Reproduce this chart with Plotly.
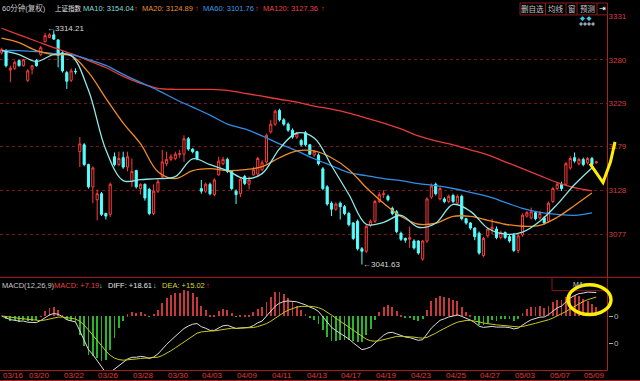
import numpy as np
import pandas as pd
import plotly.graph_objects as go

# ---------------- data ----------------
days = ["03/16", "03/19", "03/20", "03/21", "03/22", "03/23", "03/26", "03/27", "03/28", "03/29",
        "03/30", "04/02", "04/03", "04/04", "04/09", "04/10", "04/11", "04/12", "04/13", "04/16",
        "04/17", "04/18", "04/19", "04/20", "04/23", "04/24", "04/25", "04/26", "04/27", "05/02",
        "05/03", "05/04", "05/07", "05/08", "05/09"]
candles_per_day = [2] + [4] * 34

opens = [3288, 3291, 3268, 3270, 3279, 3273, 3256, 3269, 3279, 3286,
         3301, 3306, 3309, 3303, 3288, 3265, 3256, 3266.5, 3173, 3181,
         3158, 3132, 3117, 3124, 3101, 3100, 3167, 3158, 3166, 3155,
         3138, 3151, 3130, 3135, 3129, 3101, 3127, 3144, 3159, 3164,
         3165, 3170, 3170, 3188, 3176, 3173, 3130, 3127, 3135, 3123,
         3146, 3159, 3164, 3150, 3127, 3124, 3144, 3135, 3146, 3147,
         3152, 3161, 3196, 3205, 3221, 3210, 3205, 3198, 3190, 3186,
         3195, 3181, 3169, 3169, 3153, 3132, 3113, 3106, 3113, 3109,
         3101, 3090, 3092, 3060, 3057, 3087, 3092, 3115, 3123, 3121,
         3107, 3103, 3078, 3072, 3071, 3069, 3069, 3048, 3069, 3120,
         3135, 3118, 3118, 3115, 3122, 3113, 3121, 3095, 3090, 3084,
         3078, 3052, 3075, 3083, 3083, 3073, 3079, 3074, 3076, 3058,
         3076, 3098, 3096, 3102, 3096, 3096, 3092, 3115, 3130, 3135,
         3135, 3154, 3166, 3159, 3164, 3160, 3165, 3160]
highs = [3294, 3292, 3273, 3279, 3280, 3281, 3269, 3274, 3281, 3296,
         3311, 3311, 3314.21, 3304, 3290, 3267, 3270, 3270, 3190, 3183,
         3159, 3156, 3129, 3126, 3102, 3137, 3172, 3173, 3173, 3173,
         3165, 3152, 3136, 3136, 3131, 3135, 3141, 3175, 3173, 3170,
         3173, 3175, 3192, 3190, 3177, 3174, 3140, 3137, 3137, 3142,
         3167, 3167, 3166, 3151, 3129, 3143, 3146, 3144, 3155, 3167,
         3163, 3194, 3210, 3222, 3223, 3212, 3207, 3200, 3196, 3188,
         3197, 3182, 3175, 3171, 3155, 3134, 3115, 3114, 3115, 3111,
         3103, 3091, 3094, 3062, 3088, 3094, 3117, 3126, 3128, 3123,
         3109, 3105, 3080, 3073, 3086, 3071, 3070, 3070, 3120, 3136,
         3137, 3132, 3120, 3123, 3124, 3123, 3123, 3096, 3091, 3085,
         3080, 3074, 3085, 3095, 3086, 3081, 3080, 3076, 3078, 3077,
         3101, 3104, 3108, 3104, 3104, 3098, 3115, 3132, 3137, 3138,
         3161, 3168, 3172, 3166, 3166, 3167, 3167, 3162]
lows = [3286, 3271, 3254, 3268, 3272, 3272, 3254, 3263, 3272, 3284,
        3300, 3305, 3303, 3271, 3265, 3246, 3254, 3263, 3155, 3156,
        3130, 3113, 3093, 3098, 3094, 3097, 3156, 3156, 3153, 3150,
        3132, 3130, 3123, 3116, 3099, 3099, 3125, 3142, 3156, 3162,
        3163, 3166, 3161, 3174, 3171, 3163, 3124, 3125, 3122, 3121,
        3145, 3157, 3148, 3128, 3112, 3120, 3134, 3129, 3145, 3145,
        3150, 3159, 3194, 3203, 3208, 3203, 3196, 3188, 3188, 3179,
        3179, 3169, 3167, 3157, 3128, 3110, 3098, 3104, 3094, 3099,
        3086, 3070, 3058, 3041.63, 3055, 3085, 3090, 3113, 3119, 3115,
        3099, 3078, 3069, 3067, 3061, 3059, 3053, 3046, 3067, 3118,
        3122, 3116, 3113, 3113, 3113, 3111, 3093, 3088, 3082, 3070,
        3053, 3050, 3073, 3077, 3071, 3071, 3071, 3067, 3056, 3055,
        3074, 3096, 3094, 3093, 3094, 3088, 3090, 3113, 3128, 3127,
        3134, 3152, 3160, 3157, 3156, 3158, 3156, 3159]
closes = [3292, 3273, 3270, 3277, 3273, 3280, 3267, 3273, 3273, 3294,
          3308, 3309, 3304, 3285, 3267, 3255, 3267, 3266, 3182, 3158,
          3132, 3154, 3124, 3100, 3098, 3135, 3158, 3165, 3155, 3167,
          3150, 3132, 3135, 3119, 3101, 3127, 3138, 3161, 3164, 3167,
          3170, 3170.5, 3188, 3176, 3173, 3165, 3127, 3135, 3124, 3140,
          3162, 3164, 3150, 3130, 3123, 3141, 3136, 3140, 3152, 3165,
          3160, 3192, 3205, 3220, 3210, 3205, 3198, 3190, 3194, 3181,
          3181, 3170, 3173, 3159, 3130, 3112, 3106, 3112, 3109, 3101,
          3088, 3072, 3060, 3057, 3086, 3092, 3115, 3123, 3124, 3117,
          3101, 3080, 3071, 3070, 3073, 3061, 3055, 3069, 3118, 3133,
          3124, 3130, 3115, 3121, 3115, 3121, 3095, 3090, 3084, 3074,
          3055, 3072, 3083, 3085, 3073, 3079, 3073, 3069, 3058, 3075,
          3099, 3102, 3103, 3095, 3101, 3090, 3113, 3130, 3135, 3130,
          3159, 3165, 3162, 3164, 3158, 3165, 3158, 3161]

# moving averages every 4 candles
ma_sample_idx = list(range(0, 137, 4))
ma10 = [3290.6, 3286.0, 3277.9, 3286.0, 3284.8, 3244.4, 3175.1, 3139.3, 3140.5, 3141.6,
        3143.9, 3164.7, 3157.8, 3150.9, 3141.6, 3147.4, 3176.3, 3194.7, 3189.0, 3156.6,
        3123.1, 3088.5, 3090.8, 3098.9, 3085.0, 3089.7, 3111.6, 3103.5, 3083.9, 3077.0,
        3079.3, 3092.0, 3111.6, 3134.7, 3154.04]
ma20 = [3305.0, 3299.8, 3290.6, 3286.0, 3284.8, 3265.2, 3235.1, 3206.3, 3182.0, 3149.7,
        3141.6, 3150.9, 3153.2, 3150.9, 3152.0, 3155.5, 3165.9, 3173.9, 3173.9, 3165.9,
        3152.0, 3131.2, 3112.8, 3097.7, 3088.5, 3089.7, 3097.7, 3097.7, 3093.1, 3088.5,
        3086.2, 3087.3, 3096.6, 3110.4, 3124.89]
ma60 = [3290.6, 3290.6, 3289.4, 3287.1, 3286.0, 3280.2, 3273.3, 3262.9, 3253.6, 3244.4,
        3234.0, 3224.8, 3215.5, 3205.1, 3199.4, 3191.3, 3182.0, 3173.9, 3164.7, 3156.6,
        3148.5, 3145.1, 3141.6, 3139.3, 3135.8, 3133.5, 3130.1, 3125.5, 3120.8, 3113.9,
        3107.0, 3102.4, 3100.0, 3098.9, 3101.76]
ma120 = [3316.6, 3309.0, 3301.5, 3294.0, 3287.1, 3279.0, 3270.9, 3260.6, 3252.5, 3246.7,
         3245.5, 3245.5, 3245.5, 3244.4, 3240.9, 3237.5, 3234.0, 3230.5, 3225.9, 3222.4,
         3217.8, 3212.1, 3206.3, 3199.4, 3191.3, 3185.5, 3180.9, 3175.1, 3169.3, 3161.2,
         3153.2, 3145.1, 3137.0, 3131.2, 3127.36]

price_ticks = [3331, 3280, 3229, 3179, 3128, 3077]

header_items = [("60分钟(复权)", "#c8c8c8", 7.5), ("上证指数", "#e6e6e6", 6.5),
                ("MA10: 3154.04", "#7fdede", 7.5), ("↑", "#ff3030", 7.5),
                ("MA20: 3124.89", "#e8902c", 7.5), ("↑", "#ff3030", 7.5),
                ("MA60: 3101.76", "#3a9ae8", 7.5), ("↑", "#ff3030", 7.5),
                ("MA120: 3127.36", "#e84040", 7.5), ("↑", "#ff3030", 7.5)]
macd_items = [("MACD(12,26,9)", "#c8c8c8"), ("MACD: +7.19", "#e84040"), ("↓", "#40e8f0"),
              ("DIFF: +18.61", "#e6e6e6"), ("↓", "#40e8f0"),
              ("DEA: +15.02", "#d8d830"), ("↑", "#ff3030")]
buttons = ["删自选", "均线", "窗", "预测", "⇥"]

# ---------------- derived ----------------
idx = np.arange(len(closes))
c = pd.Series(closes, dtype=float)
diff = c.ewm(span=12, adjust=False).mean() - c.ewm(span=26, adjust=False).mean()
dea = diff.ewm(span=9, adjust=False).mean()
macd = 2 * (diff - dea)
day_starts = np.cumsum([0] + candles_per_day[:-1])

# ---------------- layout helpers ----------------
W, H = 640, 381
def px(x): return x / W
def py(y): return 1 - y / H

RED = "#ff3c3c"
CYAN = "#54ffff"
FONT = "Liberation Sans, Noto Sans CJK SC, sans-serif"
AXIS_RIGHT = 607.5
xr = [-1.7 / 4.34, (AXIS_RIGHT - 1.7) / 4.34]

fig = go.Figure()
fig.add_trace(go.Candlestick(
    x=idx, open=opens, high=highs, low=lows, close=closes,
    increasing=dict(line=dict(color=RED, width=1), fillcolor="#000000"),
    decreasing=dict(line=dict(color=CYAN, width=1), fillcolor=CYAN),
    whiskerwidth=0, xaxis="x", yaxis="y", hoverinfo="skip"))

for vals, col in [(ma120, "#e83a3a"), (ma60, "#2f8fe8"), (ma20, "#f08a24"), (ma10, "#8ee8e8")]:
    fig.add_trace(go.Scatter(x=ma_sample_idx, y=vals, mode="lines",
                             line=dict(color=col, width=1.3, shape="spline", smoothing=1.0),
                             xaxis="x", yaxis="y", hoverinfo="skip"))

fig.add_trace(go.Bar(x=idx, y=macd, width=0.2,
                     marker=dict(color=["#c83838" if v >= 0 else "#2ab42a" for v in macd],
                                 line=dict(width=0)),
                     xaxis="x2", yaxis="y2", hoverinfo="skip"))
fig.add_trace(go.Scatter(x=idx, y=diff, mode="lines", line=dict(color="#dcdcdc", width=1),
                         xaxis="x2", yaxis="y2", hoverinfo="skip"))
fig.add_trace(go.Scatter(x=idx, y=dea, mode="lines", line=dict(color="#c8c820", width=1),
                         xaxis="x2", yaxis="y2", hoverinfo="skip"))

annotations = []
def txt(x, y, s, color, size=7.5, xanchor="left", **kw):
    annotations.append(dict(x=x, y=y, xref="paper", yref="paper", text=s, showarrow=False,
                            xanchor=xanchor, yanchor="middle",
                            font=dict(family=FONT, size=size, color=color), **kw))

hx = [0, 53, 81, 132, 140, 193, 201, 253, 261, 319]
for (s, col, sz), x in zip(header_items, hx):
    txt(px(x), py(5.5), s, col, size=sz)
mx = [0, 52, 97, 106, 151, 160, 204]
for (s, col), x in zip(macd_items, mx):
    txt(px(x), py(285), s, col)

bx = [532.5, 556, 571.5, 587, 602]
for s, x in zip(buttons, bx):
    txt(px(x), py(6), s, "#c8c8c8" if s != "⇥" else "#ffffff", xanchor="center")
txt(px(585.5), py(15), "◆ ◆", "#40c8e8", size=5, xanchor="center")
txt(px(587), py(21.5), "◆◆◆◆", "#9aa8b0", size=4, xanchor="center")
txt(px(571), py(283.5), "MA", "#c8c8c8", size=7)

# date labels, every second trading day, left-aligned at the day's first candle
for d in range(0, len(days), 2):
    annotations.append(dict(x=day_starts[d] - 0.2, y=py(375.5), xref="x2", yref="paper",
                            text=days[d], showarrow=False, xanchor="left", yanchor="middle",
                            font=dict(family=FONT, size=8, color="#e03a3a")))

# extreme labels
imax = int(np.argmax(highs)); imin = int(np.argmin(lows))
annotations.append(dict(x=imax, y=highs[imax], xref="x", yref="y", text="←%.2f" % highs[imax],
                        showarrow=False, xanchor="left", yanchor="middle", xshift=-9, yshift=2,
                        font=dict(family=FONT, size=8, color="#d8d8d8")))
annotations.append(dict(x=imin, y=lows[imin], xref="x", yref="y", text="←%.2f" % lows[imin],
                        showarrow=False, xanchor="left", yanchor="middle", xshift=-1,
                        font=dict(family=FONT, size=8, color="#d8d8d8")))

FRAME = "#a82424"
shapes = [
    dict(type="line", xref="paper", yref="paper", x0=px(AXIS_RIGHT), x1=px(AXIS_RIGHT), y0=py(0), y1=py(370.5),
         line=dict(color=FRAME, width=1)),
    dict(type="line", xref="paper", yref="paper", x0=0, x1=1, y0=py(276.5), y1=py(276.5),
         line=dict(color=FRAME, width=1)),
    dict(type="line", xref="paper", yref="paper", x0=0, x1=px(AXIS_RIGHT), y0=py(370.5), y1=py(370.5),
         line=dict(color=FRAME, width=1)),
    dict(type="line", xref="paper", yref="paper", x0=0, x1=1, y0=py(380.5), y1=py(380.5),
         line=dict(color=FRAME, width=1)),
    dict(type="rect", xref="paper", yref="paper", x0=px(520), x1=px(AXIS_RIGHT), y0=py(12), y1=py(0),
         line=dict(color="#8a1c1c", width=1)),
    dict(type="rect", xref="paper", yref="paper", x0=px(552), x1=px(AXIS_RIGHT), y0=py(290), y1=py(276.5),
         line=dict(color="#8a1c1c", width=1)),
]
for sx in [545.5, 566, 577, 597]:
    shapes.append(dict(type="line", xref="paper", yref="paper", x0=px(sx), x1=px(sx), y0=py(12), y1=py(0),
                       line=dict(color="#8a1c1c", width=1)))

# hand-drawn yellow marks over the chart
sketch = [(590, 162), (603, 181), (610.5, 160), (615, 140)]
path = "M " + " L ".join("%f %f" % (px(x), py(y)) for x, y in sketch)
shapes.append(dict(type="path", xref="paper", yref="paper", path=path,
                   line=dict(color="#ffee00", width=3)))
shapes.append(dict(type="circle", xref="paper", yref="paper", x0=px(568), x1=px(611),
                   y0=py(314), y1=py(284), line=dict(color="#ffee00", width=3.5)))

fig.update_layout(
    width=W, height=H, margin=dict(l=0, r=0, t=0, b=0),
    paper_bgcolor="#000000", plot_bgcolor="#000000", showlegend=False,
    bargap=0,
    xaxis=dict(domain=[0, px(AXIS_RIGHT)], range=xr, showgrid=False, zeroline=False,
               showticklabels=False, rangeslider=dict(visible=False), anchor="y", fixedrange=True),
    yaxis=dict(domain=[py(276), py(12)], range=[3346 - 1.1547 * 276, 3346 - 1.1547 * 12],
               side="right", anchor="x", tickvals=price_ticks, ticktext=[str(v) for v in price_ticks],
               tickfont=dict(family=FONT, size=8, color="#d83c3c"), ticks="",
               showgrid=True, gridcolor="#7a1616", griddash="dot", gridwidth=1, zeroline=False),
    xaxis2=dict(domain=[0, px(AXIS_RIGHT)], range=xr, showgrid=False, zeroline=False,
                showticklabels=False, anchor="y2"),
    yaxis2=dict(domain=[py(370), py(277)], range=[-43.6, 30.8], side="right", anchor="x2",
                tickvals=[0, -22], ticktext=["0", "0"], ticks="outside", ticklen=4,
                tickcolor="#b0b0b0", tickfont=dict(family=FONT, size=8, color="#b8b8b8"),
                showgrid=False, zeroline=False),
    annotations=annotations, shapes=shapes,
)

fig.write_html("out.html", config={"displayModeBar": False},
               post_script="document.body.style.margin='0';")
